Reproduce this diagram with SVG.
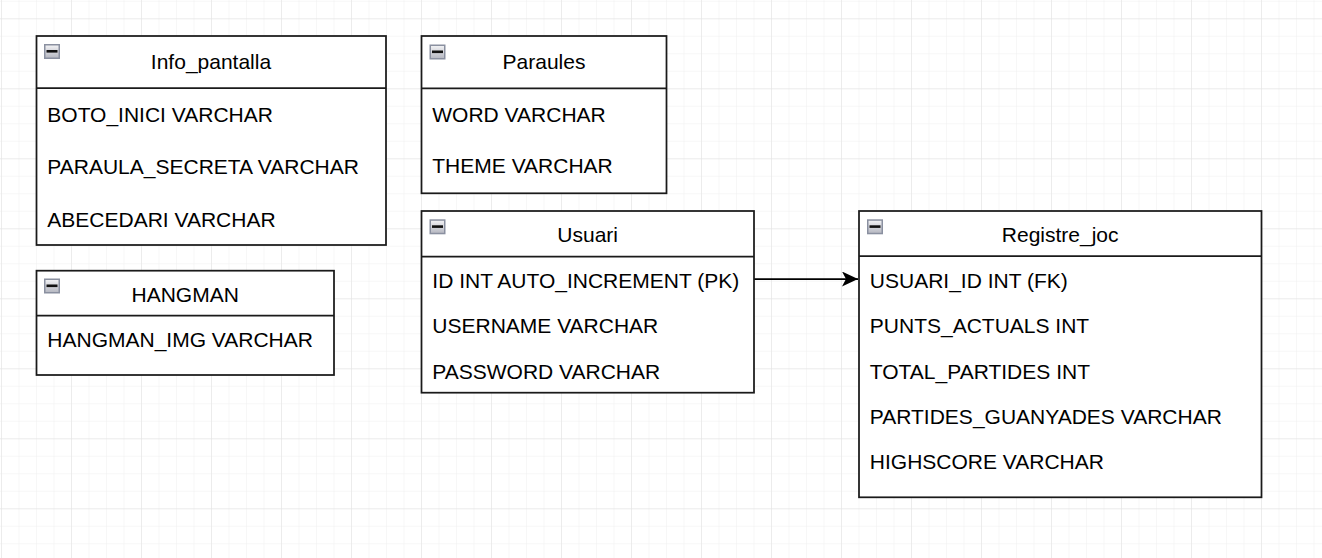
<svg xmlns="http://www.w3.org/2000/svg" width="1322" height="558" viewBox="0 0 1322 558">
  <defs>
    <pattern id="gridMinor" patternUnits="userSpaceOnUse" x="1" y="0.8" width="17.5" height="17.5">
      <path d="M0 0 H17.5 M0 0 V17.5" fill="none" stroke="#efefef" stroke-width="1"/>
    </pattern>
    <pattern id="gridMajor" patternUnits="userSpaceOnUse" x="1" y="18.3" width="70" height="70">
      <path d="M0 0 H70 M0 0 V70" fill="none" stroke="#e2e2e2" stroke-width="1"/>
    </pattern>
    <linearGradient id="iconGrad" x1="0" y1="0" x2="0" y2="1">
      <stop offset="0" stop-color="#f4f4f6"/>
      <stop offset="1" stop-color="#b4b6c0"/>
    </linearGradient>
    <symbol id="collapse" viewBox="0 0 16 15" overflow="visible">
      <rect x="0.75" y="0.75" width="14.5" height="13.5" fill="url(#iconGrad)" stroke="#8a90a0" stroke-width="1.5"/>
      <rect x="2.5" y="6" width="11" height="2.6" fill="#111"/>
    </symbol>
    <marker id="arrow" markerUnits="userSpaceOnUse" markerWidth="18" markerHeight="16" refX="16" refY="7.5" orient="auto">
      <path d="M0 0 L16 7.5 L0 15 L4 7.5 Z" fill="#000"/>
    </marker>
  </defs>
  <style>
    .box { fill: #ffffff; stroke: #1a1a1a; stroke-width: 1.75; }
    .div { stroke: #1a1a1a; stroke-width: 1.75; }
    .title { font-family: "Liberation Sans", Arial, sans-serif; font-size: 21px; fill: #000; text-anchor: middle; }
    .row { font-family: "Liberation Sans", Arial, sans-serif; font-size: 21px; fill: #000; }
    .edge { fill: none; stroke: #000; stroke-width: 1.75; }
  </style>

  <rect x="0" y="0" width="1322" height="558" fill="#ffffff"/>
  <rect x="0" y="0" width="1322" height="558" fill="url(#gridMinor)"/>
  <rect x="0" y="0" width="1322" height="558" fill="url(#gridMajor)"/>

  <g id="connectors">
    <path class="edge" d="M754 279 H858" marker-end="url(#arrow)"/>
  </g>

  <g id="Info_pantalla">
    <rect class="box" x="36.5" y="36" width="349.5" height="209"/>
    <line class="div" x1="36.5" y1="88" x2="386" y2="88"/>
    <use href="#collapse" x="44" y="44" width="16" height="15"/>
    <text class="title" x="211" y="69">Info_pantalla</text>
    <text class="row" x="47.3" y="122.3">BOTO_INICI VARCHAR</text>
    <text class="row" x="47.3" y="173.8">PARAULA_SECRETA VARCHAR</text>
    <text class="row" x="47.3" y="226.5">ABECEDARI VARCHAR</text>
  </g>

  <g id="HANGMAN">
    <rect class="box" x="36.5" y="270.7" width="297.5" height="104.3"/>
    <line class="div" x1="36.5" y1="315.7" x2="334" y2="315.7"/>
    <use href="#collapse" x="44" y="278.5" width="16" height="15"/>
    <text class="title" x="185.2" y="301.7">HANGMAN</text>
    <text class="row" x="47.3" y="347.3">HANGMAN_IMG VARCHAR</text>
  </g>

  <g id="Paraules">
    <rect class="box" x="421.5" y="36" width="245" height="157.3"/>
    <line class="div" x1="421.5" y1="88.3" x2="666.5" y2="88.3"/>
    <use href="#collapse" x="429.5" y="44.5" width="16" height="15"/>
    <text class="title" x="544" y="69">Paraules</text>
    <text class="row" x="432.3" y="121.7">WORD VARCHAR</text>
    <text class="row" x="432.3" y="173.3">THEME VARCHAR</text>
  </g>

  <g id="Usuari">
    <rect class="box" x="421.5" y="211" width="332.5" height="181.7"/>
    <line class="div" x1="421.5" y1="256.5" x2="754" y2="256.5"/>
    <use href="#collapse" x="429.5" y="219.3" width="16" height="15"/>
    <text class="title" x="587.7" y="241.7">Usuari</text>
    <text class="row" x="432.3" y="288.3">ID INT AUTO_INCREMENT (PK)</text>
    <text class="row" x="432.3" y="333">USERNAME VARCHAR</text>
    <text class="row" x="432.3" y="378.5">PASSWORD VARCHAR</text>
  </g>

  <g id="Registre_joc">
    <rect class="box" x="859" y="211" width="402.5" height="286.3"/>
    <line class="div" x1="859" y1="256" x2="1261.5" y2="256"/>
    <use href="#collapse" x="867" y="219.3" width="16" height="15"/>
    <text class="title" x="1060.2" y="241.7">Registre_joc</text>
    <text class="row" x="869.8" y="288.3">USUARI_ID INT (FK)</text>
    <text class="row" x="869.8" y="333.3">PUNTS_ACTUALS INT</text>
    <text class="row" x="869.8" y="379">TOTAL_PARTIDES INT</text>
    <text class="row" x="869.8" y="424">PARTIDES_GUANYADES VARCHAR</text>
    <text class="row" x="869.8" y="469.3">HIGHSCORE VARCHAR</text>
  </g>
</svg>
